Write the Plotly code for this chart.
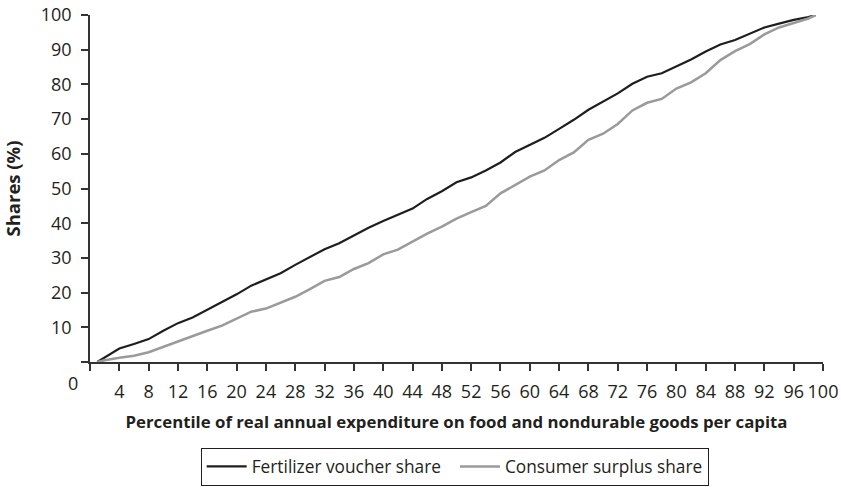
import plotly.graph_objects as go

# Percentile of real annual expenditure per capita
percentile = [1, 2, 4, 6, 8, 10, 12, 14, 16, 18, 20, 22, 24, 26, 28, 30, 32, 34, 36, 38,
              40, 42, 44, 46, 48, 50, 52, 54, 56, 58, 60, 62, 64, 66, 68, 70, 72, 74, 76,
              78, 80, 82, 84, 86, 88, 90, 92, 94, 96, 98, 99]

# Cumulative shares (%)
fertilizer_voucher = [0, 1.3, 3.9, 5.2, 6.6, 9.0, 11.2, 12.8, 15.0, 17.2, 19.5, 22.0, 23.7,
                      25.6, 28.0, 30.2, 32.5, 34.2, 36.5, 38.7, 40.6, 42.5, 44.2, 47.0, 49.2,
                      51.8, 53.2, 55.2, 57.5, 60.5, 62.5, 64.6, 67.2, 69.8, 72.7, 75.0, 77.4,
                      80.2, 82.2, 83.2, 85.2, 87.2, 89.5, 91.5, 92.8, 94.6, 96.4, 97.5, 98.6,
                      99.4, 100]
consumer_surplus = [0, 0.5, 1.2, 1.8, 2.8, 4.4, 6.0, 7.4, 9.0, 10.5, 12.4, 14.5, 15.4, 17.0,
                    18.8, 21.0, 23.4, 24.5, 26.8, 28.5, 31.0, 32.4, 34.8, 37.0, 39.0, 41.3,
                    43.2, 45.0, 48.6, 51.0, 53.4, 55.2, 58.2, 60.4, 64.0, 65.8, 68.6, 72.5,
                    74.7, 75.8, 78.8, 80.6, 83.2, 87.0, 89.6, 91.6, 94.4, 96.4, 97.7, 99.0, 100]

x_ticks = list(range(0, 101, 4))
x_ticktext = [""] + [str(v) for v in x_ticks[1:]]
y_ticks = list(range(0, 101, 10))
y_ticktext = [""] + [str(v) for v in y_ticks[1:]]

FONT = "Open Sans, sans-serif"
AXIS = "#333333"
TEXT = "#231f20"

fig = go.Figure()
fig.add_trace(go.Scatter(x=percentile, y=fertilizer_voucher, mode="lines",
                         name="Fertilizer voucher share&nbsp;&nbsp;",
                         line=dict(color="#1e1e1e", width=2.2)))
fig.add_trace(go.Scatter(x=percentile, y=consumer_surplus, mode="lines",
                         name="Consumer surplus share",
                         line=dict(color="#9a9a9a", width=2.5)))

fig.update_layout(
    width=841, height=487,
    margin=dict(l=90, r=18, t=15, b=124.5, autoexpand=False),
    paper_bgcolor="white", plot_bgcolor="white",
    font=dict(family=FONT, size=17, color=TEXT),
    showlegend=True,
    legend=dict(orientation="h", x=0.151, y=-0.247, xanchor="left", yanchor="top",
                bordercolor=TEXT, borderwidth=1, font=dict(size=17.3),
                itemwidth=40, tracegroupgap=0),
    xaxis=dict(range=[0, 100], tickvals=x_ticks, ticktext=x_ticktext, tickangle=0,
               automargin=False,
               showgrid=False, zeroline=False, showline=True, linecolor=AXIS, linewidth=1.5,
               ticks="outside", ticklen=7, tickwidth=1.5, tickcolor=AXIS,
               tickfont=dict(size=18), ticklabelstandoff=6,
               title=dict(text="<b>Percentile of real annual expenditure on food and nondurable goods per capita</b>",
                          font=dict(size=16.8), standoff=14)),
    yaxis=dict(range=[0, 100], tickvals=y_ticks, ticktext=y_ticktext,
               automargin=False,
               showgrid=False, zeroline=False, showline=True, linecolor=AXIS, linewidth=1.5,
               ticks="outside", ticklen=7, tickwidth=1.5, tickcolor=AXIS,
               tickfont=dict(size=18), ticklabelstandoff=6,
               title=dict(text="<b>Shares (%)</b>", font=dict(size=18.5), standoff=16)),
)

# Shared origin label below the corner
fig.add_annotation(x=0, y=0, xref="x", yref="y", text="0", showarrow=False,
                   xanchor="center", yanchor="middle",
                   xshift=-17, yshift=-21, font=dict(size=18))

fig.write_html("out.html")
